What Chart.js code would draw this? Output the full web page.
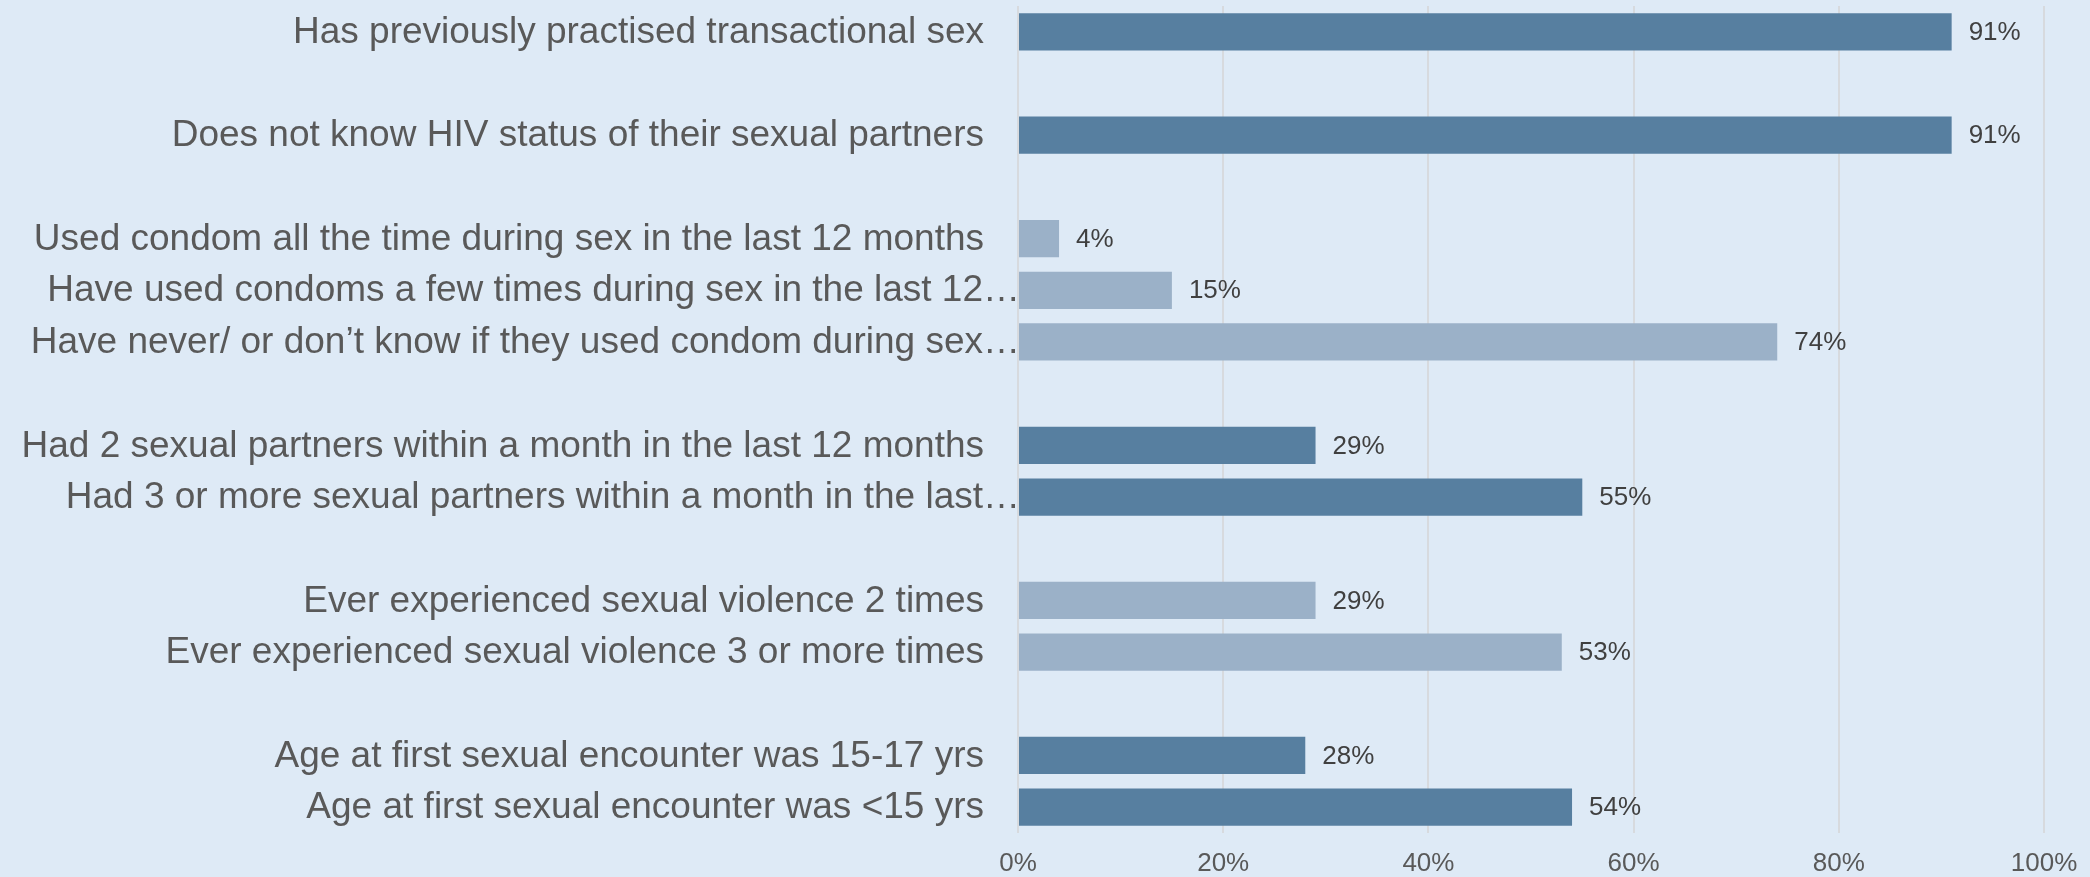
<!DOCTYPE html>
<html>
<head>
<meta charset="utf-8">
<script src="https://cdn.jsdelivr.net/npm/chart.js@4/dist/chart.umd.min.js"></script>
<style>
  html, body { margin: 0; padding: 0; background: #deeaf6; }
  #wrap { width: 2090px; height: 877px; position: relative; }
</style>
</head>
<body>
<div id="wrap"><canvas id="myChart"></canvas></div>
<script>
// empty strings are the spacer rows between groups
const categories = [
  'Has previously practised transactional sex',
  '',
  'Does not know HIV status of their sexual partners',
  '',
  'Used condom all the time during sex in the last 12 months',
  'Have used condoms a few times during sex in the last 12\u2026',
  'Have never/ or don\u2019t know if they used condom during sex\u2026',
  '',
  'Had 2 sexual partners within a month in the last 12 months',
  'Had 3 or more sexual partners within a month in the last\u2026',
  '',
  'Ever experienced sexual violence 2 times',
  'Ever experienced sexual violence 3 or more times',
  '',
  'Age at first sexual encounter was 15-17 yrs',
  'Age at first sexual encounter was <15 yrs'
]
const percentValues = [91, null, 91, null, 4, 15, 74, null, 29, 55, null, 29, 53, null, 28, 54]
// 'dark' / 'light' shade for each row
const barShade = ['dark', null, 'dark', null, 'light', 'light', 'light', null, 'dark', 'dark', null, 'light', 'light', null, 'dark', 'dark']
const xTicks = [0, 20, 40, 60, 80, 100]

const shades = { dark: '#577fa0', light: '#9bb1c8' }
const FONT = '"Liberation Sans", Arial, sans-serif'

// value at the end of each bar
const valueLabels = {
  id: 'valueLabels',
  afterDatasetsDraw(chart) {
    const ctx = chart.ctx
    const meta = chart.getDatasetMeta(0)
    ctx.save()
    ctx.font = '26px ' + FONT
    ctx.fillStyle = '#404040'
    ctx.textAlign = 'left'
    ctx.textBaseline = 'middle'
    meta.data.forEach((bar, i) => {
      const v = percentValues[i]
      if (v === null) return
      ctx.fillText(v + '%', bar.x + 17, bar.y + 1)
    })
    ctx.restore()
  }
}

// category labels, drawn by hand so the cut-off ones can run up to the axis like the original
const categoryLabels = {
  id: 'categoryLabels',
  afterDraw(chart) {
    const ctx = chart.ctx
    const yScale = chart.scales.y
    const left = chart.chartArea.left
    ctx.save()
    ctx.font = '37px ' + FONT
    ctx.fillStyle = '#595959'
    ctx.textAlign = 'right'
    ctx.textBaseline = 'middle'
    categories.forEach((lab, i) => {
      if (!lab) return
      const cut = lab.endsWith('\u2026')
      ctx.fillText(lab, cut ? left + 2 : left - 34, yScale.getPixelForValue(i) + 1)
    })
    ctx.restore()
  }
}

const data = {
  labels: categories,
  datasets: [{
    data: percentValues,
    backgroundColor: barShade.map(s => s ? shades[s] : 'transparent'),
    barPercentage: 0.72,
    categoryPercentage: 1.0
  }]
}

const config = {
  type: 'bar',
  data: data,
  options: {
    indexAxis: 'y',
    responsive: true,
    maintainAspectRatio: false,
    animation: false,
    layout: { padding: { top: 6, right: 0, bottom: 0, left: 0 } },
    plugins: {
      legend: { display: false },
      tooltip: { enabled: false }
    },
    scales: {
      x: {
        min: 0,
        max: 100,
        afterBuildTicks: (scale) => { scale.ticks = xTicks.map(v => ({ value: v })) },
        afterFit: (scale) => {
          scale.height = 44
          scale.paddingRight = 46
        },
        grid: { color: '#d7dade', lineWidth: 2, drawTicks: false },
        border: { display: false },
        ticks: {
          padding: 18,
          color: '#595959',
          font: { family: FONT, size: 26, lineHeight: 1.0 },
          callback: (v) => v + '%'
        }
      },
      y: {
        grid: { display: false, drawTicks: false },
        border: { display: false },
        afterFit: (scale) => { scale.width = 1018 },
        ticks: { display: false }
      }
    }
  },
  plugins: [valueLabels, categoryLabels]
}

const myChart = new Chart(document.getElementById('myChart'), config)
</script>
</body>
</html>
